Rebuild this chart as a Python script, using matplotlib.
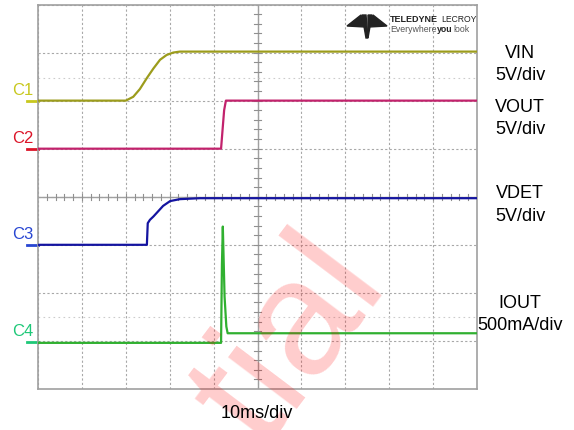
import numpy as np
import matplotlib.pyplot as plt
from matplotlib.patches import Polygon

plt.rcParams['font.family'] = ['Liberation Sans', 'DejaVu Sans']

# Zeit in Divisions (10 ms/div), Pegel in Divisions (0 = unten, 8 = oben)
vin_t = [0, 2.0, 2.17, 2.32, 2.48, 2.63, 2.78, 2.93, 3.08, 3.23, 10]
vin_v = [6.0, 6.0, 6.08, 6.24, 6.47, 6.67, 6.85, 6.95, 7.0, 7.02, 7.02]

vout_t = [0, 4.17, 4.21, 4.24, 4.28, 10]
vout_v = [5.0, 5.0, 5.46, 5.8, 6.0, 6.0]

vdet_t = [0, 2.48, 2.50, 2.55, 2.63, 2.70, 2.85, 3.01, 3.23, 3.69, 10]
vdet_v = [3.0, 3.0, 3.45, 3.52, 3.59, 3.66, 3.81, 3.91, 3.95, 3.97, 3.97]

iout_t = [0, 4.17, 4.19, 4.21, 4.23, 4.25, 4.29, 4.32, 10]
iout_v = [0.96, 0.96, 2.6, 3.38, 2.65, 1.92, 1.30, 1.16, 1.16]

kanaele = ['C1', 'C2', 'C3', 'C4']
nullpegel = [6.0, 5.0, 3.0, 0.98]
label_farben = ['#c8c81e', '#dc1428', '#2846d2', '#1ec878']
trace_farben = ['#9c9c1c', '#c2226c', '#1414a0', '#30b030']

rechts_namen = ['VIN', 'VOUT', 'VDET', 'IOUT']
rechts_skala = ['5V/div', '5V/div', '5V/div', '500mA/div']
rechts_y = [53, 107, 193, 303]   # Pixel-Zeile der Namen

W, H = 574, 430
fig = plt.figure(figsize=(W / 100, H / 100), dpi=100)
ax = fig.add_axes([38 / W, 1 - 389 / H, 439 / W, 384.5 / H])
ax.set_xlim(0, 10)
ax.set_ylim(0, 8)
ax.set_xticks(range(11))
ax.set_yticks(range(9))
ax.tick_params(length=0, labelbottom=False, labelleft=False)
ax.grid(True, ls=(0, (2, 2)), color='#a8a8a8', lw=0.8)
for s in ax.spines.values():
    s.set_color('#a0a0a0')
    s.set_linewidth(1.2)

# Mittellinien mit Teilstrichen
ax.axvline(5, color='#a0a0a0', lw=1)
ax.axhline(4, color='#a0a0a0', lw=1)
for t in np.arange(0.2, 10, 0.2):
    ax.plot([t, t], [3.94, 4.06], color='#909090', lw=0.8)
for t in np.arange(0.2, 8, 0.2):
    ax.plot([4.93, 5.07], [t, t], color='#909090', lw=0.8)

# blasse Hilfslinien
for y in [6.48, 1.5]:
    ax.axhline(y, color='#cccccc', lw=0.8, ls=(0, (1.5, 3)))

# Wasserzeichen
fig.text(388 / W, 1 - 283 / H, 'tial', fontsize=118, color='#ff0000',
         alpha=0.2, rotation=53, rotation_mode='anchor', ha='right',
         va='baseline', zorder=0)

# Kurven
daten = [(vin_t, vin_v), (vout_t, vout_v), (vdet_t, vdet_v), (iout_t, iout_v)]
for (t, v), c in zip(daten, trace_farben):
    ax.plot(t, v, color=c, lw=1.6, zorder=3)

# Kanal-Marker links
for name, lvl, c in zip(kanaele, nullpegel, label_farben):
    ax.plot([-0.26, 0], [lvl, lvl], color=c, lw=2, clip_on=False)
    ax.text(-0.1, lvl + 0.05, name, color=c, fontsize=12, ha='right',
            va='bottom')

# Beschriftung rechts
for n, s, y in zip(rechts_namen, rechts_skala, rechts_y):
    fig.text(520 / W, 1 - y / H, n, fontsize=13, ha='center', va='center')
    fig.text(520 / W, 1 - (y + 23) / H, s, fontsize=13, ha='center',
             va='center')

fig.text(257 / W, 1 - 414 / H, '10ms/div', fontsize=13, ha='center',
         va='center')

# Logo
fig.text(390 / W, 1 - 20 / H, 'TELEDYNE', fontsize=6.5, fontweight='bold',
         ha='left', va='center', color='#222222')
fig.text(441 / W, 1 - 20 / H, 'LECROY', fontsize=6.2, ha='left',
         va='center', color='#222222')
fig.text(390 / W, 1 - 30 / H, 'Everywhere', fontsize=6.3, ha='left',
         va='center', color='#555555')
fig.text(437 / W, 1 - 30 / H, 'you', fontsize=6.3, fontweight='bold',
         ha='left', va='center', color='#222222')
fig.text(453 / W, 1 - 30 / H, 'look', fontsize=6.3, ha='left', va='center',
         color='#555555')
logo = [[(347, 26), (361, 15), (365, 27)],
        [(362, 15), (366, 15), (368, 38), (366, 38)],
        [(368, 15), (372, 15), (368, 38)],
        [(373, 15), (387, 26), (369, 27)]]
for p in logo:
    fig.patches.append(Polygon([(x / W, 1 - y / H) for x, y in p],
                               closed=True, color='#222222',
                               transform=fig.transFigure, figure=fig))

fig.savefig('out.png', dpi=100)
